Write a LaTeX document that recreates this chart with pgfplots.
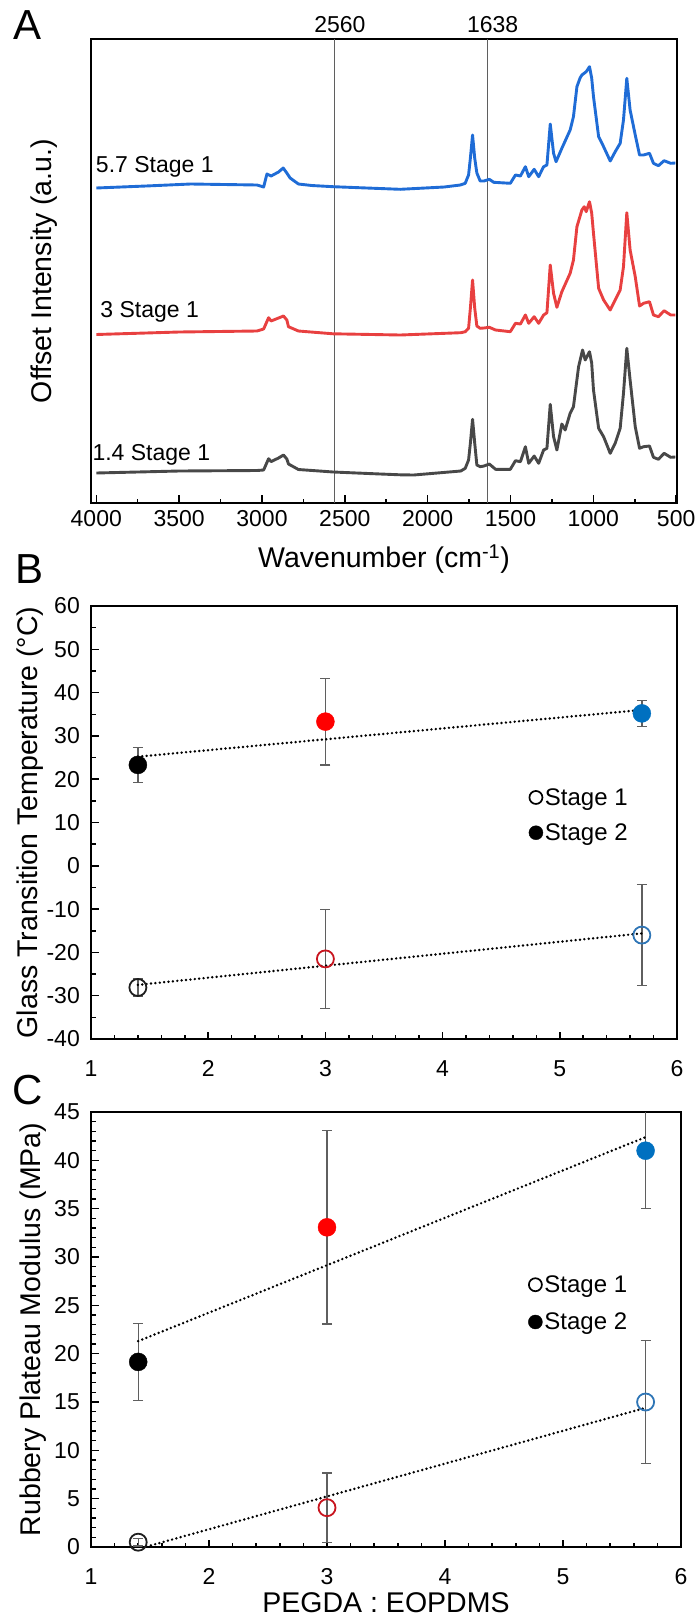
\documentclass[border=0pt]{standalone}
\usepackage{fontspec}
\setmainfont{Liberation Sans}
\usepackage{pgfplots}
\pgfplotsset{compat=1.18}

\definecolor{specblue}{RGB}{31,108,214}
\definecolor{specred}{RGB}{232,64,64}
\definecolor{specgray}{RGB}{72,72,72}
\definecolor{fillred}{RGB}{255,0,0}
\definecolor{fillblue}{RGB}{0,112,192}
\definecolor{ringred}{RGB}{200,20,30}
\definecolor{ringblue}{RGB}{46,117,182}
\definecolor{ringblack}{RGB}{30,30,30}
\definecolor{errgray}{RGB}{95,95,95}

\pgfplotsset{
  every axis/.append style={
    scale only axis,
    anchor=north west,
    tick align=inside,
    tick pos=left,
    axis line style={line width=1.6pt},
    every tick/.append style={line width=1.5pt, black},
    /pgf/number format/assume math mode=true,
    /pgf/number format/1000 sep={},
    scaled ticks=false,
    tick label style={font=\fontsize{23}{27}\selectfont},
    label style={font=\fontsize{28.5}{32}\selectfont},
  },
  errbar/.style={error bars/.cd, y dir=both, y explicit,
    error bar style={errgray, line width=1.4pt},
    error mark options={rotate=90, errgray, mark size=5pt, line width=1.4pt}},
  filledpt/.style={only marks, mark=*, mark size=9pt, forget plot, color=#1, mark options={draw=#1, fill=#1}, errbar},
  openpt/.style={only marks, mark=o, mark size=8.5pt, forget plot, color=#1, mark options={draw=#1, line width=1.8pt}, errbar},
  trend/.style={black, line width=2.7pt, line cap=round, dash pattern=on 0pt off 4.4pt, no marks, forget plot},
  spec/.style={color=#1, line width=2.9pt, line join=round, no marks},
}

\begin{document}
\begin{tikzpicture}
\useasboundingbox (0pt,0pt) rectangle (696pt,-1622pt);

\node[font=\fontsize{42}{46}\selectfont] at (28pt,-25pt) {A};
\node[font=\fontsize{42}{46}\selectfont] at (30pt,-569pt) {B};
\node[font=\fontsize{42}{46}\selectfont] at (28pt,-1090pt) {C};

% ---------------- Panel A ----------------
\begin{axis}[at={(91pt,-39pt)}, width=586pt, height=464pt,
  xmin=495, xmax=4032, x dir=reverse, ymin=0, ymax=464,
  ytick=\empty, xtick={500,1000,...,4000}, minor x tick num=1,
  major tick length=8pt, minor tick length=4.5pt,
  xticklabel style={inner sep=0pt, yshift=-7.5pt},
  xlabel={Wavenumber (cm\textsuperscript{-1})},
  ylabel={Offset Intensity (a.u.)},
  xlabel style={at={(axis description cs:0.5,-0.121)}, anchor=center},
  ylabel style={at={(axis description cs:-0.080,0.5)}, anchor=center},
  clip=false]
\addplot[color=errgray, line width=0.9pt] coordinates {(2560,0) (2560,464)};
\addplot[color=errgray, line width=0.9pt] coordinates {(1638,0) (1638,464)};
% blue: 5.7 Stage 1
\addplot[spec=specblue] coordinates {
(4000,315) (3700,317) (3430,319) (3030,318) (2990,316) (2970,329) (2945,327)
(2900,331) (2872,335) (2850,330) (2830,325) (2780,319) (2700,317.5) (2570,316.3)
(2165,313.7) (1900,316) (1803,318) (1773,319.7) (1763,324) (1753,328) (1742,345)
(1729,368) (1716,345) (1703,330) (1683,322) (1660,322) (1628,323.7) (1601,320.7)
(1501,319.7) (1470,328) (1440,327) (1410,336.3) (1390,326.3) (1357,333.7)
(1330,326.3) (1300,336.3) (1280,338) (1260,379) (1240,349.7) (1225,341.3)
(1190,354.7) (1140,373) (1120,386.3) (1099,416.3) (1080,425) (1069,428) (1043,431.3)
(1023,436.3) (1010,425) (999,406.3) (968,366.3) (938,356.3) (898,342) (868,351.3)
(838,359.7) (818,383) (798,424.7) (778,393) (747,368) (721,348) (697,348)
(661,349.7) (637,339.7) (607,337.3) (573,342.3) (533,339.7) (505,340)};
% red: 3 Stage 1
\addplot[spec=specred] coordinates {
(4000,168.5) (3500,171) (3030,172) (2990,174) (2960,185.3) (2945,182) (2900,185)
(2870,187) (2850,183) (2840,176.3) (2780,172) (2570,169.2) (2165,168) (1800,170.3)
(1773,171.3) (1753,174.7) (1742,195) (1729,223) (1716,195) (1703,177) (1683,174.7)
(1660,175) (1628,175.7) (1590,173) (1501,171.3) (1470,179.7) (1440,179) (1410,188)
(1390,179.7) (1357,186.3) (1330,179.7) (1300,188) (1280,190.3) (1260,238)
(1240,209.7) (1220,195.7) (1190,211.3) (1140,229.7) (1120,243) (1099,276.3)
(1069,293) (1055,296.3) (1043,291.3) (1023,301.3) (1010,290) (999,269.7) (968,214.7)
(938,203) (898,193) (868,203) (838,213) (818,236.3) (798,290.3) (778,253)
(747,226.3) (721,197) (697,199.7) (661,201.3) (637,188) (607,186.3) (573,192.3)
(533,188) (505,188)};
% gray: 1.4 Stage 1
\addplot[spec=specgray] coordinates {
(4000,30) (3500,32) (3030,32.5) (2990,33) (2960,44.3) (2945,41.4) (2900,45)
(2870,48) (2850,44) (2840,39) (2780,33.5) (2570,31) (2286,29) (2165,28.2)
(2084,28) (1800,32) (1773,34.7) (1753,43) (1742,60) (1729,83.7) (1716,60)
(1703,38) (1683,36.3) (1660,37) (1628,39) (1590,33.7) (1501,33.7) (1470,42.3)
(1440,41.3) (1410,56.3) (1390,39.7) (1357,47) (1330,39.7) (1300,53) (1280,54.7)
(1260,98.7) (1240,66.3) (1220,53) (1190,79) (1170,73) (1140,89.7) (1120,96.3)
(1089,136.3) (1065,153) (1049,143) (1023,151.3) (1010,140) (999,113) (968,74.7) (938,66.3)
(898,49.7) (868,59.7) (838,74.7) (818,109.7) (798,154.7) (778,123) (747,76.3)
(721,54.7) (697,56.3) (661,57) (637,45.7) (607,43.7) (573,49.7) (533,45.7)
(505,46)};
\node[font=\fontsize{23}{27}\selectfont, anchor=west, inner sep=0pt] at (axis cs:4003,336.5) {5.7 Stage 1};
\node[font=\fontsize{23}{27}\selectfont, anchor=west, inner sep=0pt] at (axis cs:3976,191.5) {3 Stage 1};
\node[font=\fontsize{23}{27}\selectfont, anchor=west, inner sep=0pt] at (axis cs:4024,48.5) {1.4 Stage 1};
\node[font=\fontsize{23}{27}\selectfont, inner sep=0pt] at (axis cs:2530,478) {2560};
\node[font=\fontsize{23}{27}\selectfont, inner sep=0pt] at (axis cs:1608,478) {1638};
\end{axis}

% ---------------- Panel B ----------------
\begin{axis}[at={(91pt,-606pt)}, width=586pt, height=433pt,
  xmin=1, xmax=6, ymin=-40, ymax=60,
  xtick={1,...,6}, ytick={-40,-30,...,60},
  minor x tick num=4, minor y tick num=1,
  major tick length=7.5pt, minor tick length=4.5pt,
  xticklabel style={inner sep=0pt, yshift=-21pt},
  yticklabel style={inner sep=0pt, xshift=-11pt},
  ylabel={Glass Transition Temperature (°C)},
  ylabel style={at={(axis description cs:-0.1035,0.5)}, anchor=center},
  legend style={draw=none, fill=none, at={(0.747,0.584)}, anchor=north west,
    font=\fontsize{24}{28}\selectfont, row sep=13pt, inner sep=0pt,
    nodes={inner sep=2pt}},
  legend cell align=left]
\addlegendimage{only marks, mark=o, mark size=6.5pt, black, mark options={line width=1.7pt}}
\addlegendentry{Stage 1}
\addlegendimage{only marks, mark=*, mark size=7pt, black}
\addlegendentry{Stage 2}
% Stage 2 (filled)
\addplot[filledpt=black] coordinates {(1.4,23.3) +- (0,4)};
\addplot[filledpt=fillred] coordinates {(3.0,33.3) +- (0,10)};
\addplot[filledpt=fillblue] coordinates {(5.7,35.2) +- (0,3)};
% Stage 1 (open)
\addplot[openpt=ringblack] coordinates {(1.4,-28.1) +- (0,2)};
\addplot[openpt=ringred] coordinates {(3.0,-21.5) +- (0,11.4)};
\addplot[openpt=ringblue] coordinates {(5.7,-16.0) +- (0,11.7)};
% trend lines
\addplot[trend] coordinates {(1.4,25.2) (5.7,36.0)};
\addplot[trend] coordinates {(1.4,-27.5) (5.7,-15.6)};
\end{axis}

% ---------------- Panel C ----------------
\begin{axis}[at={(91pt,-1112pt)}, width=590pt, height=435pt,
  xmin=1, xmax=6, ymin=0, ymax=45,
  xtick={1,...,6}, ytick={0,5,...,45},
  minor x tick num=4, minor y tick num=4,
  major tick length=7.5pt, minor tick length=4.5pt,
  xticklabel style={inner sep=0pt, yshift=-21pt},
  yticklabel style={inner sep=0pt, xshift=-11pt},
  xlabel={PEGDA : EOPDMS},
  ylabel={Rubbery Plateau Modulus (MPa)},
  xlabel style={at={(axis description cs:0.5,-0.129)}, anchor=center},
  ylabel style={at={(axis description cs:-0.098,0.5)}, anchor=center},
  legend style={draw=none, fill=none, at={(0.741,0.629)}, anchor=north west,
    font=\fontsize{24}{28}\selectfont, row sep=15pt, inner sep=0pt,
    nodes={inner sep=2pt}},
  legend cell align=left]
\addlegendimage{only marks, mark=o, mark size=6.5pt, black, mark options={line width=1.7pt}}
\addlegendentry{Stage 1}
\addlegendimage{only marks, mark=*, mark size=7pt, black}
\addlegendentry{Stage 2}
% Stage 2 (filled)
\addplot[filledpt=black] coordinates {(1.4,19.15) +- (0,4)};
\addplot[filledpt=fillred] coordinates {(3.0,33.07) +- (0,10)};
\addplot[filledpt=fillblue] coordinates {(5.7,41.0) +- (0,6)};
% Stage 1 (open)
\addplot[openpt=ringblack] coordinates {(1.4,0.5) +- (0,0.4)};
\addplot[openpt=ringred] coordinates {(3.0,4.07) +- (0,3.6)};
\addplot[openpt=ringblue] coordinates {(5.7,15.0) +- (0,6.35)};
% trend lines
\addplot[trend] coordinates {(1.4,21.3) (5.7,42.4)};
\addplot[trend] coordinates {(1.4,-0.2) (5.7,14.4)};
\end{axis}
\end{tikzpicture}
\end{document}
